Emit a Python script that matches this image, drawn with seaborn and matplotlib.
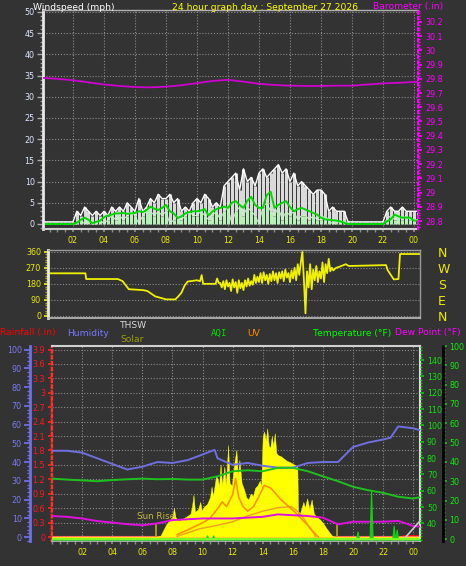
import numpy as np
import pandas as pd
import matplotlib
matplotlib.use("Agg")
import matplotlib.pyplot as plt
import seaborn as sns
from matplotlib.ticker import MultipleLocator, FixedLocator, FuncFormatter

BG = '#333333'
sns.set_theme(style="dark", rc={"axes.facecolor": BG, "figure.facecolor": BG})
plt.rcParams['font.family'] = ['DejaVu Sans']

# ---------------- data ----------------
# top panel: wind (mph) sampled every 15 minutes, barometer hourly
wind_hours = np.arange(0, 24.5, 0.25)
wind_high = [0.5,0.5,0.5,0.5, 0.5,0.5,0.5,0.5, 0.5,3,2,4, 3,2,3,2, 3,2,4,3, 4,3,5,4,
             3,6,3,4, 6,5,7,6, 6,7,5,6, 3,4,3,5, 6,5,7,6, 4,5,4,9, 10,11,12,8,
             13,10,11,9, 12,13,11,12, 13,14,12,13, 10,12,9,10, 9,8,7,8, 8,7,3,4,
             3,3,3,0.5, 0.5,0.5,0.5,0.5, 0.5,0.5,0.5,0.5, 0.5,3,4,3, 3,4,3,3, 3,3]
wind_low = [0,0,0,0, 0,0,0,0, 0,0,1,0, 1,0,0,1, 0,1,2,1, 2,1,2,3, 2,0,2,3, 3,2,3,2,
            3,0,1,2, 1,2,3,2, 2,3,2,1, 2,3,1,3, 4,0,3,4, 2,4,3,2, 0,4,5,3, 2,4,1,3,
            2,3,1,2, 2,1,2,1, 1,2,1,0, 1,0,1,0, 0,0,0,0, 0,0,0,0, 0,1,2,1, 2,1,2,1, 1,1]
wind_avg = [0,0,0,0, 0,0,0,0, 0,0.3,1.0,1.5, 1.0,0.2,0.5,0.8, 1.6,2.0,2.2,2.5,
            2.5,2.6,2.4,2.5, 2.6,3.0,2.8,3.3, 4.1,3.6,3.3,3.8, 4.5,3.0,2.5,1.4,
            1.8,2.5,2.8,3.0, 3.0,3.2,3.5,2.0, 3.0,3.5,3.8,4.1, 3.8,5.0,5.4,4.5,
            3.8,5.5,6.4,4.5, 3.8,3.8,6.8,7.6, 3.8,4.5,5.0,5.4, 4.0,3.0,3.5,3.8,
            3.4,3.0,2.6,2.2, 1.5,1.1,1.0,0.9, 0.8,0.6,0.3,0.0, 0,0,0,0, 0,0,0,0,
            0,0.6,1.1,2.2, 1.8,1.5,1.5,1.5, 0.8,0.8]
baro_hours = [0,1,2,3,4,5,6,7,8,9,10,11,12,13,14,15,16,17,18,19,20,21,22,23,24,24.3]
baro_in = [29.807,29.800,29.790,29.775,29.760,29.750,29.742,29.740,29.745,29.755,
           29.770,29.785,29.793,29.780,29.765,29.757,29.752,29.750,29.750,29.752,
           29.752,29.760,29.768,29.772,29.778,29.779]

# middle panel: wind direction (degrees)
dir_hours = [0.4,2.8,2.85,4.9,5.2,5.6,6.5,6.8,7.3,7.8,8.0,8.6,8.8,9.0,9.2,9.4,10.0,10.2,
             10.3,10.4,11.2,11.3,11.4,
             11.5,11.6,11.7,11.8,11.9,12.0,12.1,12.2,12.3,12.4,12.5,12.6,12.7,12.8,12.9,
             13.0,13.1,13.2,13.3,13.4,13.5,13.6,13.7,13.8,13.9,14.0,14.1,14.2,14.3,14.4,
             14.5,14.6,14.7,14.8,14.9,15.0,15.1,15.2,15.3,15.4,15.5,15.6,15.7,15.8,15.9,
             16.0,16.1,16.2,16.3,16.4,16.5,16.6,16.7,16.8,16.9,17.0,17.1,17.2,17.3,17.4,
             17.5,17.6,17.7,17.8,17.9,18.0,18.1,18.2,18.3,18.4,18.5,18.6,18.7,18.8,18.9,
             19.0,19.2,19.6,19.8,22.2,22.3,22.7,23.0,23.1,24.4]
dir_deg = [239,239,207,207,195,150,145,140,110,98,93,93,110,131,170,193,200,195,
           229,180,180,210,185,
           185,160,195,150,200,165,185,140,205,160,190,130,200,155,185,
           145,200,165,210,170,195,175,230,185,220,190,240,185,245,200,
           230,180,235,195,250,200,240,185,245,210,250,195,260,215,240,
           190,255,210,270,200,290,230,300,360,200,15,250,160,290,150,
           260,200,280,190,250,210,300,190,290,240,320,250,270,255,265,
           270,276,290,280,285,257,205,207,347,347]

# bottom panel
hum_hours = [0,1,2,3,4,5,6,7,8,9,10,10.8,11,12,13,14,15,16,17,18,19,20,21,22,22.5,23,24,24.45]
humidity = [46,46,45,42,39,36,37.5,40,39.5,41,44,46.5,42,38.5,39.5,38,37,37,39.5,40,40,
            48,50.4,52,53,59,58,57]
temp_hours = [0,1,2,3,4,5,6,7,8,9,10,11,12,13,14,15,16,17,18,19,20,21,22,23,24,24.45]
temperature = [67.4,66.8,66.3,65.8,66.5,67,67.4,67,67.2,66.8,66.8,68.8,71.9,72.5,71.9,
               74,74,71.9,68.8,65.8,62.4,60.3,58.7,56.3,55.2,56]
dew_point = [44.5,44,43,41.4,40.5,39.5,38.8,40,42,42.5,43,43,43,43.5,44,45.5,45,44.5,
             43.5,39.4,41,41,41,41.5,38.4,38]
solar_hours = [0,6.9,7.2,7.4,7.6,7.8,8.0,8.1,8.2,8.4,8.6,8.8,9.0,9.2,9.3,9.4,9.5,9.7,9.85,
               9.95,10.1,10.3,10.5,10.6,10.7,10.9,11.0,11.1,11.2,11.3,11.45,11.55,11.7,
               11.8,11.95,12.1,12.25,12.35,12.45,12.6,12.75,12.9,13.05,13.2,13.35,13.5,
               13.65,13.8,13.9,14.0,14.1,14.2,14.3,14.4,14.5,14.6,14.7,14.8,14.9,15.0,
               15.2,15.4,15.6,15.8,16.0,16.2,16.3,16.35,16.5,16.7,16.8,16.95,17.1,17.25,
               17.4,17.6,17.8,18.0,18.2,18.4,18.6,18.8,24.45]
solar = [0,0,10,60,110,140,170,250,170,140,150,165,180,200,260,360,215,235,300,
         225,260,280,340,430,350,520,500,430,620,440,600,430,785,
         460,440,620,743,510,657,460,410,340,320,370,350,420,
         440,480,430,860,900,820,927,780,760,860,780,885,720,700,
         690,670,650,640,625,610,600,175,210,300,250,330,240,320,
         200,170,150,120,80,45,12,0,0]
uv_hours = [8.3,9.0,10.0,10.5,11.0,11.3,11.6,12.0,12.2,12.4,12.7,13.0,13.4,13.8,14.1,
            14.5,14.8,15.2,16.0,17.0,17.6,17.7]
uv = [0.2,0.6,1.2,1.6,2.4,3.0,2.6,3.6,5.0,3.4,2.6,2.2,2.6,3.6,4.4,4.2,3.8,3.2,2.3,1.0,
      0.1,0]
uv2_hours = [8.3,9.0,9.8,11.0,12.0,13.0,14.0,15.0,15.9,16.4,16.8,17.1,17.4,17.5]
uv2 = [0.05,0.35,0.7,1.0,1.3,1.8,2.2,2.5,2.6,2.1,1.45,0.8,0.3,0]
aqi_hours = [0,10.2,10.3,10.4,10.6,10.7,10.8,20.2,20.3,20.4,21.1,21.2,21.3,22.6,22.7,
             22.8,22.9,23.0,23.1,24.45]
aqi = [0,0,2,0,0,2,0,0,4,0,0,25,0,0,7,0,5,0,0,0]
rain_hours = [0,23.25,23.3,24.45]
rainfall = [0,0,0.05,0.05]
thsw_hours = [23.25,24.45]
thsw = [29,41.5]
sun_rise, sun_set = 6.9, 18.95

hour_ticks = [2,4,6,8,10,12,14,16,18,20,22,24]
hour_labels = ['02','04','06','08','10','12','14','16','18','20','22','00']
wind_ticks = [0,5,10,15,20,25,30,35,40,45,50]
baro_ticks = [28.8,28.9,29.0,29.1,29.2,29.3,29.4,29.5,29.6,29.7,29.8,29.9,30.0,30.1,30.2]
dir_ticks = [0,90,180,270,360]
compass = ['N','E','S','W','N']
rain_ticks = [0,0.3,0.6,0.9,1.2,1.5,1.8,2.1,2.4,2.7,3.0,3.3,3.6,3.9]
hum_ticks = [0,10,20,30,40,50,60,70,80,90,100]
temp_ticks = [40,50,60,70,80,90,100,110,120,130,140]
aqi_ticks = [0,10,20,30,40,50,60,70,80,90,100]

# ---------------- figure ----------------
W, H = 466, 566
fig = plt.figure(figsize=(W/100, H/100), dpi=100, facecolor=BG)
PX = 72/100  # points per pixel

def box(l, t, r, b):
    return [l/W, 1-b/H, (r-l)/W, (b-t)/H]

def txt(x, y, s, color, size=6.6, **kw):
    fig.text(x/W, 1-y/H, s, color=color, fontsize=size, va='center', ha=kw.pop('ha', 'left'), **kw)

GRID = dict(color='#8a8a8a', linestyle=(0, (1, 1.6)), linewidth=0.8)
fmt = FuncFormatter(lambda v, p: '%g' % round(v, 2))
YEL = '#ecec00'
TS = 5.8

def line(ax, x, y, color, lw=1.0, **kw):
    df = pd.DataFrame({'x': x, 'y': y})
    sns.lineplot(data=df, x='x', y='y', ax=ax, color=color, linewidth=lw,
                 estimator=None, sort=False, legend=False, **kw)
    ax.set_xlabel(''); ax.set_ylabel('')

# ---- panel 1: wind + barometer ----
ax1 = fig.add_axes(box(43, 10, 418, 229))
ax1.set_facecolor(BG)
ax1.vlines(wind_hours, wind_low, wind_high, color='#ececec', linewidth=2.2, alpha=0.9)
line(ax1, wind_hours, wind_high, '#ffffff', 1.0)
ax1.vlines(wind_hours, 0, wind_low, color='#b8eeb8', linewidth=2.2)
line(ax1, wind_hours, wind_low, '#c8f4c8', 0.7)
line(ax1, wind_hours, wind_avg, '#00d800', 1.4)
ax1.set_xlim(0.065, 24.26)
ax1.set_ylim(-1.18, 50.47)
ax1.yaxis.set_major_locator(FixedLocator(wind_ticks))
ax1.yaxis.set_minor_locator(MultipleLocator(1))
ax1.xaxis.set_major_locator(FixedLocator(hour_ticks))
ax1.set_xticklabels(hour_labels)
ax1.xaxis.set_minor_locator(MultipleLocator(0.5))
ax1.tick_params(axis='y', which='major', left=True, length=4, width=1, color='#aaaaaa',
                labelcolor='#dce6ff', labelsize=TS, pad=2)
ax1.tick_params(axis='y', which='minor', left=True, length=2, color='#999999')
ax1.tick_params(axis='x', which='both', bottom=True, length=2, color='#8a8a8a',
                labelcolor=YEL, labelsize=TS, pad=3)
ax1.grid(True, which='major', **GRID)
for s, c, lw in [('left', '#e8e8e8', 2), ('bottom', '#cfcfcf', 1.5), ('top', '#b0b0b0', 1)]:
    ax1.spines[s].set_color(c); ax1.spines[s].set_linewidth(lw); ax1.spines[s].set_visible(True)
ax1.spines['right'].set_visible(False)

ax1b = ax1.twinx()
line(ax1b, baro_hours, baro_in, '#d000d0', 1.3)
ax1b.set_ylim(28.744, 30.284)
ax1b.yaxis.set_major_locator(FixedLocator(baro_ticks))
ax1b.yaxis.set_major_formatter(fmt)
ax1b.yaxis.set_minor_locator(MultipleLocator(0.02))
ax1b.tick_params(axis='y', which='major', right=True, length=3, color='#ff00ff',
                 labelcolor='#ff00ff', labelsize=TS, pad=2)
ax1b.tick_params(axis='y', which='minor', right=True, length=1.5, color='#ff00ff')
for s in ['left', 'top', 'bottom']:
    ax1b.spines[s].set_visible(False)
ax1b.spines['right'].set_visible(True)
ax1b.spines['right'].set_color('#ff00ff'); ax1b.spines['right'].set_linestyle(':')
ax1b.spines['right'].set_linewidth(1.5)

# ---- panel 2: wind direction ----
ax2 = fig.add_axes(box(48, 250, 420, 318))
ax2.set_facecolor(BG)
line(ax2, dir_hours, dir_deg, '#f0f000', 1.3)
ax2.set_xlim(0.387, 24.39)
ax2.set_ylim(-11.2, 369.5)
ax2.yaxis.set_major_locator(FixedLocator(dir_ticks))
ax2.yaxis.set_minor_locator(MultipleLocator(15))
ax2.set_xticks([])
ax2.tick_params(axis='y', which='major', left=True, length=3, color=YEL,
                labelcolor=YEL, labelsize=TS, pad=2)
ax2.tick_params(axis='y', which='minor', left=True, length=2, color='#b0b000')
ax2.grid(True, axis='y', which='major', **GRID)
for s, c, lw in [('left', '#e8e8e8', 2), ('bottom', '#bdbdbd', 1.2), ('top', '#9a9a9a', 1),
                 ('right', '#9a9a9a', 1)]:
    ax2.spines[s].set_color(c); ax2.spines[s].set_linewidth(lw); ax2.spines[s].set_visible(True)
ax2r = ax2.twinx()
ax2r.set_ylim(-11.2, 369.5)
ax2r.yaxis.set_major_locator(FixedLocator(dir_ticks))
ax2r.set_yticklabels(compass)
ax2r.tick_params(axis='y', length=0, labelcolor=YEL, labelsize=9, pad=13)
for s in ax2r.spines.values():
    s.set_visible(False)

# ---- panel 3: rain / humidity / temperature / solar / UV / AQI ----
ax3 = fig.add_axes(box(52, 346, 420, 541))
ax3.set_facecolor(BG)
hum_lim = (-2.13, 101.9)
ax3.set_xlim(0, 24.45)
ax3.set_ylim(hum_lim[0]*0.039, hum_lim[1]*0.039)
ax3.fill_between(rain_hours, 0, rainfall, color='#ff0000', linewidth=0)
line(ax3, rain_hours, [0]*len(rain_hours), '#ff7060', 1.5)
ax3.yaxis.set_major_locator(FixedLocator(rain_ticks))
ax3.yaxis.set_major_formatter(fmt)
ax3.yaxis.set_minor_locator(MultipleLocator(0.06))
ax3.xaxis.set_major_locator(FixedLocator(hour_ticks))
ax3.set_xticklabels(hour_labels)
ax3.xaxis.set_minor_locator(MultipleLocator(0.5))
ax3.tick_params(axis='y', which='major', left=True, length=3, color='#ff2020',
                labelcolor='#ff1a1a', labelsize=TS, pad=2)
ax3.tick_params(axis='y', which='minor', left=True, length=1.5, color='#ff2020')
ax3.tick_params(axis='x', which='both', bottom=True, length=2, color='#8a8a8a',
                labelcolor=YEL, labelsize=TS, pad=3)
ax3.grid(True, which='major', **GRID)
ax3.spines['left'].set_color('#ff3030'); ax3.spines['left'].set_linestyle(':')
ax3.spines['left'].set_linewidth(1.6)
for s, c, lw in [('bottom', '#bdbdbd', 1.2), ('top', '#cfcfcf', 1.5), ('right', '#dcdcdc', 1.5)]:
    ax3.spines[s].set_color(c); ax3.spines[s].set_linewidth(lw); ax3.spines[s].set_visible(True)

ax3s = ax3.twinx()
ax3s.fill_between(solar_hours, 0, solar, color='#ffff00', linewidth=0.3, edgecolor='#ffff00')
ax3s.set_ylim(hum_lim[0]*16, hum_lim[1]*16)
ax3s.axis('off')
ax3s.vlines([sun_rise, sun_set], 0, 7.6*16, color='#b0a020', linewidth=1.3)
ax3s.text(sun_rise, 10.8*16, 'Sun Rise', color='#c8b840', fontsize=6.3, ha='center', va='center')

ax3u = ax3.twinx()
line(ax3u, uv2_hours, uv2, '#f0a020', 1.0)
line(ax3u, uv_hours, uv, '#ff9000', 1.2)
ax3u.set_ylim(hum_lim[0]*0.16, hum_lim[1]*0.16)
ax3u.axis('off')

ax3h = ax3.twinx()
line(ax3h, hum_hours, humidity, '#6f6fe0', 1.4)
ax3h.set_ylim(*hum_lim)
ax3h.yaxis.set_ticks_position('left')
ax3h.yaxis.set_label_position('left')
ax3h.yaxis.set_major_locator(FixedLocator(hum_ticks))
ax3h.yaxis.set_minor_locator(MultipleLocator(2))
for s in ['right', 'top', 'bottom']:
    ax3h.spines[s].set_visible(False)
ax3h.spines['left'].set_visible(True)
ax3h.spines['left'].set_position(('outward', 22*PX))
ax3h.spines['left'].set_color('#6f6fe8'); ax3h.spines['left'].set_linewidth(2)
ax3h.tick_params(axis='y', which='major', left=True, right=False, labelleft=True, labelright=False,
                 length=4, color='#6f6fe8', labelcolor='#7b7bf0', labelsize=TS, pad=2)
ax3h.tick_params(axis='y', which='minor', left=True, right=False, length=2, color='#6f6fe8')

ax3t = ax3.twinx()
line(ax3t, temp_hours, temperature, '#1ec01e', 1.4)
line(ax3t, temp_hours, dew_point, '#e010e0', 1.4)
line(ax3t, thsw_hours, thsw, '#c8c8c8', 1.2)
ax3t.set_ylim(29.2, 148.6)
ax3t.yaxis.set_major_locator(FixedLocator(temp_ticks))
ax3t.yaxis.set_minor_locator(MultipleLocator(2))
for s in ['left', 'top', 'bottom', 'right']:
    ax3t.spines[s].set_visible(False)
ax3t.tick_params(axis='y', which='major', right=True, length=3, color='#10c010',
                 labelcolor='#10e010', labelsize=TS, pad=2)
ax3t.tick_params(axis='y', which='minor', right=True, length=1.5, color='#10c010')

ax3a = ax3.twinx()
ax3a.fill_between(aqi_hours, 0, aqi, color='#10d010', linewidth=0.8, edgecolor='#10d010')
line(ax3a, aqi_hours, [0]*len(aqi_hours), '#80ff20', 1.4)
ax3a.set_ylim(-0.9, 100)
ax3a.yaxis.set_major_locator(FixedLocator(aqi_ticks))
ax3a.yaxis.set_minor_locator(MultipleLocator(2))
for s in ['left', 'top', 'bottom']:
    ax3a.spines[s].set_visible(False)
ax3a.spines['right'].set_visible(True)
ax3a.spines['right'].set_position(('outward', 23*PX))
ax3a.spines['right'].set_color('#000000'); ax3a.spines['right'].set_linewidth(2)
ax3a.tick_params(axis='y', which='major', right=True, length=3, color='#10c010',
                 labelcolor='#10ee10', labelsize=TS, pad=1.5)
ax3a.tick_params(axis='y', which='minor', right=True, length=1.5, color='#10c010')

# ---- header texts ----
txt(33, 7, 'Windspeed (mph)', '#ffffff')
txt(172, 7, '24 hour graph day : September 27 2026', '#ffff00')
txt(373, 7, 'Barometer (.in)', '#ff00ff')
txt(0, 333, 'Rainfall (.in)', '#ff0000')
txt(67, 333, 'Humidity', '#7878ff')
txt(120, 326, 'THSW', '#d8d8d8')
txt(120, 340, 'Solar', '#a0a000')
txt(211, 333, 'AQI', '#00e000', family='DejaVu Sans Mono')
txt(247, 333, 'UV', '#ff8c00')
txt(313, 333, 'Temperature (°F)', '#00ff00')
txt(395, 333, 'Dew Point (°F)', '#ff00ff')

fig.savefig('out.png', dpi=100, facecolor=BG)
